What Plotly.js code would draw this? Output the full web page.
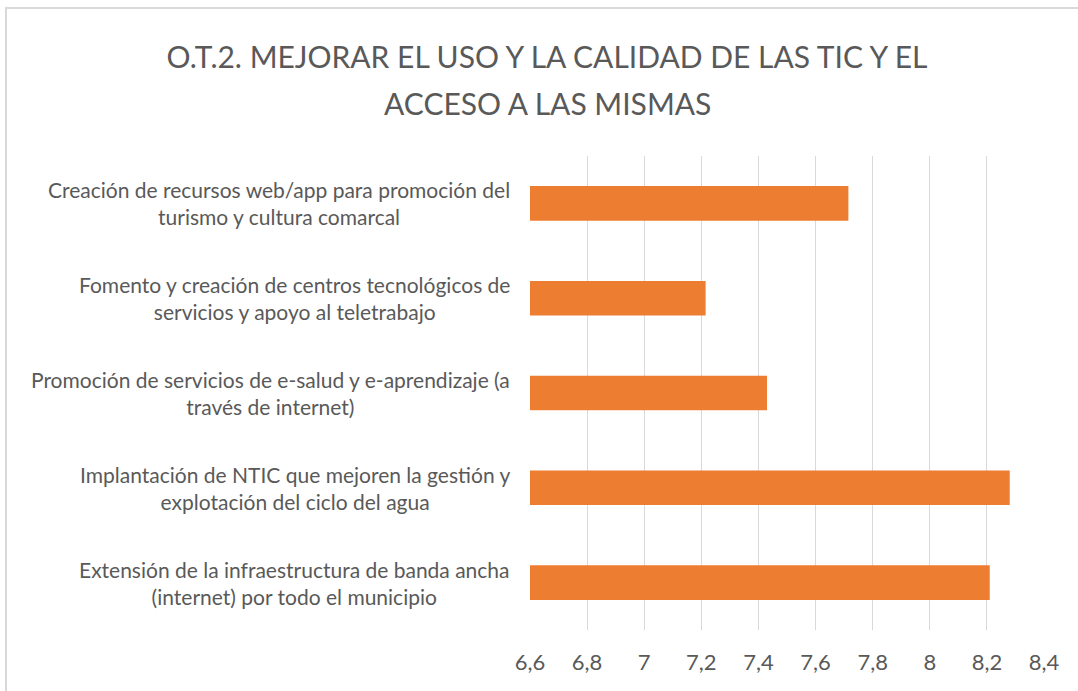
<!DOCTYPE html>
<html>
<head>
<meta charset="utf-8">
<script src="https://cdn.plot.ly/plotly-3.0.1.min.js"></script>
<style>
html,body{margin:0;padding:0;background:#fff;}
#chart{width:1078px;height:691px;}
</style>
</head>
<body>
<div id="chart"></div>
<script>
const categories = [
  "Creación de recursos web/app para promoción del<br>turismo y cultura comarcal",
  "Fomento y creación de centros tecnológicos de<br>servicios y apoyo al teletrabajo",
  "Promoción de servicios de e-salud y e-aprendizaje (a<br>través de internet)",
  "Implantación de NTIC que mejoren la gestión y<br>explotación del ciclo del agua",
  "Extensión de la infraestructura de banda ancha<br>(internet) por todo el municipio"
];
const values = [7.715, 7.215, 7.43, 8.28, 8.21];
const titleLine1 = "O.T.2. MEJORAR EL USO Y LA CALIDAD DE LAS TIC Y EL";
const titleLine2 = "ACCESO A LAS MISMAS";

const FONT = "Lato, 'Open Sans', sans-serif";
const GREY = "#595959";

const W = 1078, H = 691;
const mL = 530, mR = 34, mT = 156, mB = 61;
const pw = W - mL - mR, ph = H - mT - mB;
const px = x => (x - mL) / pw;
const py = y => (H - mB - y) / ph;

const annotations = categories.map(c => ({
  text: c, xref: "paper", yref: "y", x: px(512), y: c,
  xanchor: "right", yanchor: "middle", align: "center", showarrow: false,
  font: {family: FONT, size: 21, color: GREY}
}));
annotations.push({
  text: titleLine2, xref: "paper", yref: "paper", x: px(547), y: py(103),
  xanchor: "center", yanchor: "middle", showarrow: false,
  font: {family: FONT, size: 30, color: GREY}
});

const data = [{
  type: "bar", orientation: "h",
  x: values, y: categories,
  width: 0.365,
  marker: {color: "#ED7D31", line: {width: 0}},
  hoverinfo: "x+y"
}];

const layout = {
  width: W, height: H,
  margin: {l: mL, r: mR, t: mT, b: mB, pad: 0},
  paper_bgcolor: "#fff", plot_bgcolor: "#fff",
  separators: ",.",
  showlegend: false,
  title: {
    text: titleLine1, x: 547 / W, xref: "container", xanchor: "center",
    y: 1 - 57 / H, yanchor: "middle", yref: "container",
    font: {family: FONT, size: 30, color: GREY}
  },
  xaxis: {
    range: [6.6, 8.4], dtick: 0.2, tick0: 6.6,
    showgrid: true, gridcolor: "#d9d9d9", gridwidth: 1,
    zeroline: false, showline: false,
    ticks: "", ticklabelstandoff: 17,
    tickfont: {family: FONT, size: 22, color: GREY}
  },
  yaxis: {
    type: "category", categoryorder: "array", categoryarray: categories,
    autorange: "reversed",
    showticklabels: false, showgrid: false, zeroline: false, showline: false, ticks: ""
  },
  annotations: annotations,
  shapes: [{
    type: "rect", xref: "paper", yref: "paper",
    x0: px(6), x1: px(1090), y0: py(700), y1: py(8),
    line: {color: "#d9d9d9", width: 2}, fillcolor: "rgba(0,0,0,0)", layer: "below"
  }]
};

Plotly.newPlot("chart", data, layout, {displayModeBar: false, staticPlot: true});
</script>
</body>
</html>
